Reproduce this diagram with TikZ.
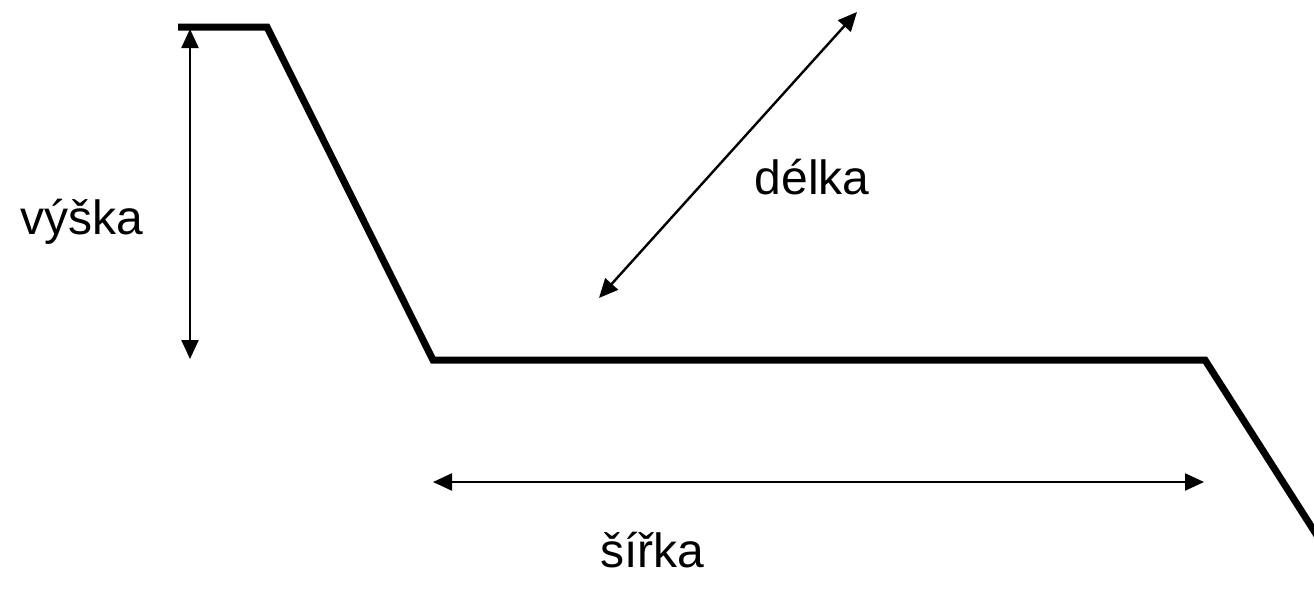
\documentclass[tikz,border=0pt]{standalone}
\usepackage{fontspec}
\setmainfont{Liberation Sans}
\usetikzlibrary{arrows.meta}
\begin{document}
\begin{tikzpicture}[x=1pt,y=-1pt,
  profile/.style={line width=7pt, line join=miter},
  dim/.style={line width=2.4pt, {Triangle[length=19pt,width=17pt]}-{Triangle[length=19pt,width=17pt]}},
  lbl/.style={font=\fontsize{48}{56}\selectfont, inner sep=0pt}]
\useasboundingbox (0,0) rectangle (1314,589);
\coordinate (p0) at (178,27);
\coordinate (p1) at (267,27);
\coordinate (p2) at (433,360);
\coordinate (p3) at (1205,360);
\coordinate (p4) at (1318,537);
\draw[profile] (p0) -- (p1) -- (p2) -- (p3) -- (p4);
\coordinate (h1) at (190,29);
\coordinate (h2) at (190,359);
\draw[dim] (h1) -- (h2);
\coordinate (d1) at (599,298);
\coordinate (d2) at (857,12);
\draw[dim] (d1) -- (d2);
\coordinate (w1) at (433,482);
\coordinate (w2) at (1204,482);
\draw[dim] (w1) -- (w2);
\node[lbl] (vyska) at (82,222) {výška};
\node[lbl] (delka) at (812,177) {délka};
\node[lbl] (sirka) at (652,550) {šířka};
\end{tikzpicture}
\end{document}
